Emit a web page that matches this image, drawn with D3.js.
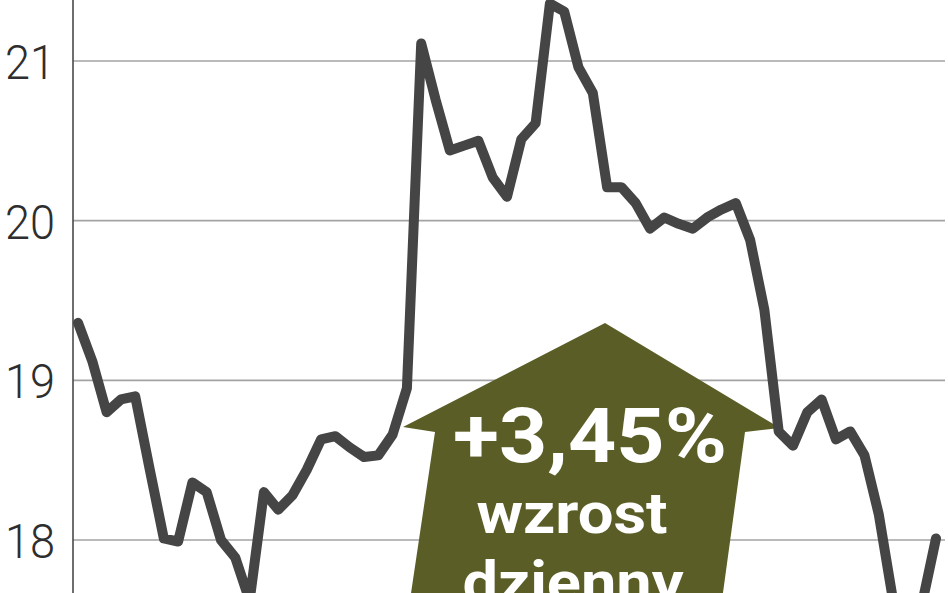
<!DOCTYPE html>
<html>
<head>
<meta charset="utf-8">
<script src="https://cdn.jsdelivr.net/npm/d3@7"></script>
<style>
  html, body { margin: 0; padding: 0; background: #fff; overflow: hidden; }
  svg { display: block; }
</style>
</head>
<body>
<svg id="chart" width="948" height="593"></svg>
<script>
// ---- data ----
const yTicks = [18, 19, 20, 21];
const tickLabels = ["18", "19", "20", "21"];
const prices = [
  19.36, 19.12, 18.80, 18.88, 18.90, 18.45, 18.01, 17.99, 18.36, 18.30,
  18.00, 17.89, 17.62, 18.30, 18.19, 18.28, 18.44, 18.63, 18.65, 18.58,
  18.52, 18.53, 18.66, 18.95, 21.11, 20.76, 20.44, 20.47, 20.50, 20.27,
  20.15, 20.51, 20.61, 21.36, 21.31, 20.96, 20.80, 20.21, 20.21, 20.11,
  19.95, 20.02, 19.98, 19.95, 20.02, 20.07, 20.11, 19.88, 19.44, 18.68,
  18.59, 18.80, 18.88, 18.63, 18.68, 18.53, 18.16, 17.62, 17.47, 17.59,
  18.01
];
const annotationLines = ["+3,45%", "wzrost", "dzienny"];

// ---- layout ----
const W = 948, H = 593;
const svg = d3.select("#chart");

const x = d3.scaleLinear().domain([0, prices.length - 1]).range([78, 936]);
const y = d3.scaleLinear().domain([18, 21]).range([540, 61]);

// gridlines
svg.append("g")
  .selectAll("line")
  .data(yTicks)
  .join("line")
  .attr("x1", 73).attr("x2", 945)
  .attr("y1", d => y(d)).attr("y2", d => y(d))
  .attr("stroke", "#a3a3a3")
  .attr("stroke-width", 1.6);

// vertical axis line
svg.append("line")
  .attr("x1", 73).attr("x2", 73)
  .attr("y1", 0).attr("y2", H)
  .attr("stroke", "#4a4a4a")
  .attr("stroke-width", 1.6);

// tick labels
svg.append("g")
  .selectAll("text")
  .data(yTicks)
  .join("text")
  .attr("x", 55)
  .attr("y", d => y(d) + 18)
  .attr("text-anchor", "end")
  .attr("font-family", "Roboto, 'Open Sans', sans-serif")
  .attr("font-weight", 300)
  .attr("font-size", 48)
  .attr("textLength", 50)
  .attr("lengthAdjust", "spacingAndGlyphs")
  .attr("fill", "#2e2e2e")
  .text((d, i) => tickLabels[i]);

// annotation arrow (shape relative to its tip)
const tip = [605, 323];
const arrowShape = [
  [0, 0], [175, 105], [140, 109], [117, 277], [-195, 277], [-170, 109], [-202, 104]
];
svg.append("path")
  .attr("d", d3.line()(arrowShape.map(p => [tip[0] + p[0], tip[1] + p[1]])) + "Z")
  .attr("fill", "#5a5e26");

const textSpecs = [
  { cx: 590, base: 462, size: 76, len: 274 },
  { cx: 572, base: 533, size: 57, len: 191 },
  { cx: 573, base: 602, size: 57, len: 221 }
];
svg.append("g")
  .selectAll("text")
  .data(annotationLines)
  .join("text")
  .attr("x", (d, i) => textSpecs[i].cx)
  .attr("y", (d, i) => textSpecs[i].base)
  .attr("text-anchor", "middle")
  .attr("font-family", "Roboto, 'Open Sans', sans-serif")
  .attr("font-weight", 700)
  .attr("font-size", (d, i) => textSpecs[i].size)
  .attr("textLength", (d, i) => textSpecs[i].len)
  .attr("lengthAdjust", "spacingAndGlyphs")
  .attr("fill", "#ffffff")
  .text(d => d);

// price line
const line = d3.line()
  .x((d, i) => x(i))
  .y(d => y(d));

svg.append("path")
  .datum(prices)
  .attr("d", line)
  .attr("fill", "none")
  .attr("stroke", "#454545")
  .attr("stroke-width", 10)
  .attr("stroke-linejoin", "round")
  .attr("stroke-linecap", "round");
</script>
</body>
</html>
